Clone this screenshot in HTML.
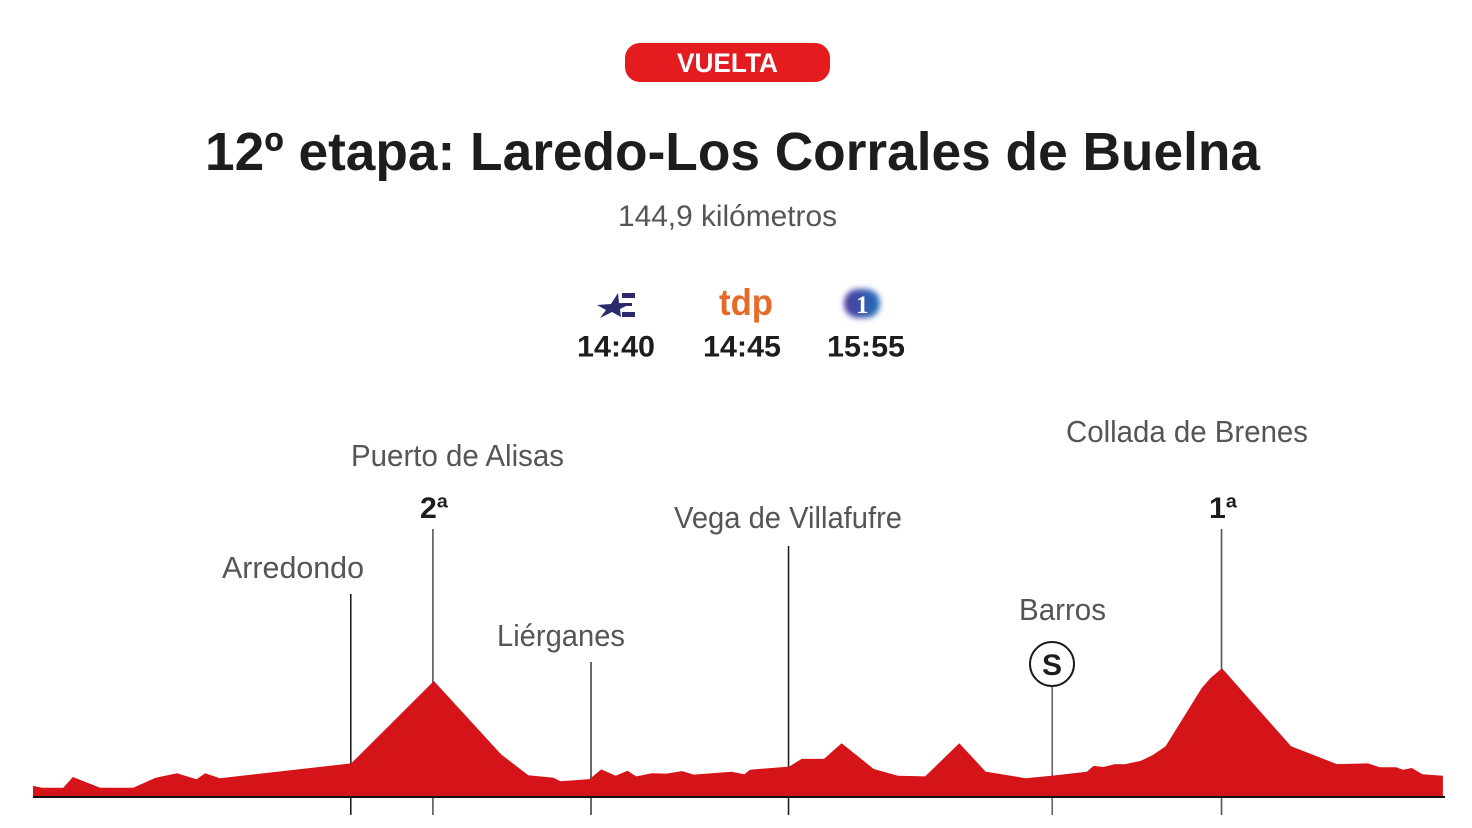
<!DOCTYPE html>
<html lang="es">
<head>
<meta charset="utf-8">
<title>12º etapa: Laredo-Los Corrales de Buelna</title>
<style>
html,body{margin:0;padding:0;background:#fff;width:1472px;height:828px;overflow:hidden}
svg{display:block}
text{font-family:"Liberation Sans",sans-serif}
.place{font-size:31px;fill:#555}
.cat{font-size:30px;font-weight:bold;fill:#1d1d1b}
.time{font-size:30px;font-weight:bold;fill:#1d1d1b}
</style>
</head>
<body>
<svg id="chart" xmlns="http://www.w3.org/2000/svg" width="1472" height="828" viewBox="0 0 1472 828">
  <defs>
    <linearGradient id="tve-gradient" x1="0" x2="1" y1="0" y2="0">
      <stop offset="0" stop-color="#4b3a9c"/>
      <stop offset="1" stop-color="#2270bb"/>
    </linearGradient>
    <filter id="tve-blur" x="-40%" y="-40%" width="180%" height="180%"><feGaussianBlur stdDeviation="3"/></filter>
  </defs>

  <rect x="625" y="43" width="205" height="39" rx="15" fill="#e41b1f"/>
  <text x="677" y="72" font-size="27" font-weight="bold" fill="#fff" textLength="101" lengthAdjust="spacingAndGlyphs">VUELTA</text>

  <text x="205" y="170" font-size="54" font-weight="bold" fill="#1d1d1b" textLength="1055" lengthAdjust="spacingAndGlyphs">12º etapa: Laredo-Los Corrales de Buelna</text>
  <text x="618" y="226" font-size="30" fill="#555" textLength="219" lengthAdjust="spacingAndGlyphs">144,9 kilómetros</text>

  <g fill="#2b2a6c">
    <polygon points="597,305 611,304 618,293 619,303 630,304 620,309 621,317 612,312 600,318 606,310"/>
    <rect x="622" y="293" width="13" height="5"/>
    <rect x="622" y="303" width="10" height="3"/>
    <rect x="622" y="312" width="13" height="5"/>
  </g>
  <text x="719" y="315" font-size="37" font-weight="bold" fill="#e86a2a" textLength="54" lengthAdjust="spacingAndGlyphs">tdp</text>
  <g>
    <rect x="844" y="289" width="36" height="29" rx="14" fill="url(#tve-gradient)" filter="url(#tve-blur)"/>
    <text x="856" y="313" font-size="25" font-weight="bold" fill="#fff" style="font-family:'Liberation Serif',serif">1</text>
  </g>

  <text class="time" x="577" y="356.5" textLength="78" lengthAdjust="spacingAndGlyphs">14:40</text>
  <text class="time" x="703" y="356.5" textLength="78" lengthAdjust="spacingAndGlyphs">14:45</text>
  <text class="time" x="827" y="356.5" textLength="78" lengthAdjust="spacingAndGlyphs">15:55</text>

  <g id="plot"></g>

  <text class="place" x="222" y="578" textLength="142" lengthAdjust="spacingAndGlyphs">Arredondo</text>
  <text class="place" x="351" y="466" textLength="213" lengthAdjust="spacingAndGlyphs">Puerto de Alisas</text>
  <text class="place" x="497" y="646" textLength="128" lengthAdjust="spacingAndGlyphs">Liérganes</text>
  <text class="place" x="674" y="528" textLength="228" lengthAdjust="spacingAndGlyphs">Vega de Villafufre</text>
  <text class="place" x="1019" y="620" textLength="87" lengthAdjust="spacingAndGlyphs">Barros</text>
  <text class="place" x="1066" y="442" textLength="242" lengthAdjust="spacingAndGlyphs">Collada de Brenes</text>

  <text class="cat" x="420" y="518" textLength="28" lengthAdjust="spacingAndGlyphs">2ª</text>
  <text class="cat" x="1209" y="518" textLength="28" lengthAdjust="spacingAndGlyphs">1ª</text>

  <circle cx="1052" cy="664" r="22" fill="#fff" stroke="#1d1d1b" stroke-width="2"/>
  <text x="1052" y="675" font-size="30" font-weight="bold" fill="#1d1d1b" text-anchor="middle">S</text>
</svg>
<script>
const profileKm = [0,0.9,3.1,4.1,6.9,10.3,12.6,14.8,16.8,17.7,19.2,32.7,41.2,48.1,50.9,53.5,54.2,57.2,58.4,59.9,61.1,62.0,63.6,65.1,66.7,67.9,71.8,73.1,73.7,77.7,79.0,81.3,83.1,86.4,88.9,91.7,95.2,97.9,102.0,104.7,108.3,109.0,110.0,111.2,112.2,113.8,115.1,116.4,120.1,121.0,122.2,129.3,134.0,137.2,138.4,140.1,140.8,141.7,142.8,144.9];
const profileElevation = [66,54,54,117,54,54,113,139,104,139,110,197,680,250,127,113,92,105,162,125,154,121,139,137,152,131,148,133,160,178,223,223,315,164,125,121,315,149,110,125,148,182,176,193,192,211,246,297,637,696,754,297,193,197,174,174,160,170,133,125];
const markerKm = [32.66,41.1,57.35,77.65,104.75,122.15];

function xScale(km){ return 33 + km * 9.73; }
function yScale(m){ return 797 - m / 5.86; }

const NS = 'http://www.w3.org/2000/svg';
const plot = document.getElementById('plot');

function addStem(km, topY, colour, name){
  const stem = document.createElementNS(NS, 'line');
  
  
  stem.setAttribute('x1', xScale(km));
  stem.setAttribute('x2', xScale(km));
  stem.setAttribute('y1', topY);
  stem.setAttribute('y2', 815);
  stem.setAttribute('stroke', colour);
  stem.setAttribute('stroke-width', '1.6');
  plot.appendChild(stem);
}

addStem(markerKm[0], 594, '#222', 'marker-arredondo');
addStem(markerKm[1], 529, '#555', 'marker-puerto-de-alisas');
addStem(markerKm[2], 662, '#444', 'marker-lierganes');
addStem(markerKm[3], 546, '#222', 'marker-vega-de-villafufre');
addStem(markerKm[4], 686, '#666', 'marker-barros');
addStem(markerKm[5], 529, '#555', 'marker-collada-de-brenes');

let areaPath = 'M' + xScale(profileKm[0]) + ' ' + yScale(0);
profileKm.forEach(function(km, i){
  areaPath += ' L' + xScale(km).toFixed(1) + ' ' + yScale(profileElevation[i]).toFixed(1);
});
areaPath += ' L' + xScale(profileKm[profileKm.length - 1]) + ' ' + yScale(0) + ' Z';

const area = document.createElementNS(NS, 'path');


area.setAttribute('d', areaPath);
area.setAttribute('fill', '#d41418');
plot.appendChild(area);

const axis = document.createElementNS(NS, 'line');


axis.setAttribute('x1', xScale(0));
axis.setAttribute('x2', 1445);
axis.setAttribute('y1', 797);
axis.setAttribute('y2', 797);
axis.setAttribute('stroke', '#111');
axis.setAttribute('stroke-width', '2');
plot.appendChild(axis);
</script>
</body>
</html>
